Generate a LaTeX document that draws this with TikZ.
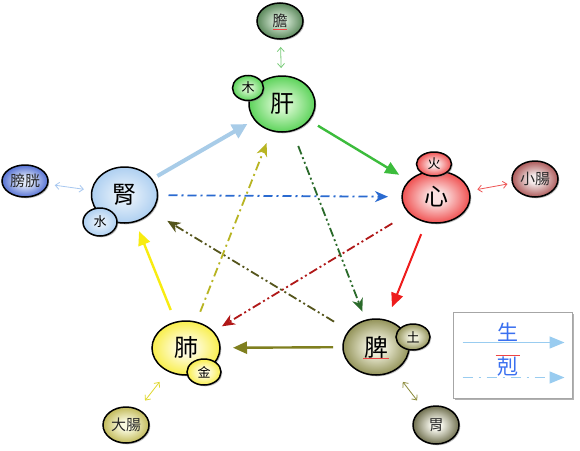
\documentclass[tikz,border=0pt]{standalone}
\usepackage{fontspec}
\newfontfamily\cjk{Noto Sans CJK TC}
\usetikzlibrary{arrows.meta,shapes.geometric,shadows}
\pgfdeclareradialshading[ballin,ballout]{wxball}{\pgfpoint{0bp}{0bp}}{color(0bp)=(ballin);color(6bp)=(ballin);color(31bp)=(ballout);color(50bp)=(ballout!90!black)}
\colorlet{ballin}{white}\colorlet{ballout}{gray}
\definecolor{liverin}{HTML}{D0F6C8}\definecolor{liverout}{HTML}{38C838}
\definecolor{gallin}{HTML}{D0E4D0}\definecolor{gallout}{HTML}{346A34}
\definecolor{kidin}{HTML}{E2EEFA}\definecolor{kidout}{HTML}{9EC6EE}
\definecolor{bladin}{HTML}{E0E8F8}\definecolor{bladout}{HTML}{2A4CC8}
\definecolor{heartin}{HTML}{FBE0E0}\definecolor{heartout}{HTML}{EC2424}
\definecolor{siin}{HTML}{F4EAEA}\definecolor{siout}{HTML}{962C2C}
\definecolor{splin}{HTML}{F0F0DC}\definecolor{splout}{HTML}{767630}
\definecolor{stin}{HTML}{F4F4EA}\definecolor{stout}{HTML}{46461E}
\definecolor{lungin}{HTML}{FFFCE0}\definecolor{lungout}{HTML}{F6EA1E}
\definecolor{liin}{HTML}{FAFAE0}\definecolor{liout}{HTML}{B0A630}
\definecolor{cKL}{HTML}{A8CCE8}\definecolor{cLH}{HTML}{3CBC3C}
\definecolor{cHS}{HTML}{EE1C1C}\definecolor{cSL}{HTML}{7F7F1F}
\definecolor{cLK}{HTML}{F8EC10}
\definecolor{dKH}{HTML}{2A6AD0}\definecolor{dHL}{HTML}{B01818}
\definecolor{dLS}{HTML}{2A6A2A}\definecolor{dSK}{HTML}{55551C}
\definecolor{dLL}{HTML}{B8B422}
\definecolor{bGall}{HTML}{7ACC7A}\definecolor{bBlad}{HTML}{A8C8F0}
\definecolor{bSI}{HTML}{EE5555}\definecolor{bSt}{HTML}{8A8A3A}
\definecolor{bLI}{HTML}{E0D830}
\definecolor{legtxt}{HTML}{3A70F0}\definecolor{legarr}{HTML}{99CCF0}
\definecolor{squig}{HTML}{EE4444}
\begin{document}
\begin{tikzpicture}[x=1pt,y=-1pt,
  ball/.style n args={4}{ellipse, draw=black, line width=1.5pt, inner sep=0pt,
    minimum width=#1pt, minimum height=#2pt, shading=wxball,
    /utils/exec={\colorlet{ballin}{#3}\colorlet{ballout}{#4}},
    drop shadow={shadow xshift=1.3pt, shadow yshift=-1.3pt, opacity=0.5}},
  bigtxt/.style={font=\cjk\fontsize{24}{24}\selectfont},
  smalltxt/.style={font=\cjk\fontsize{13}{13}\selectfont},
  organtxt/.style={font=\cjk\fontsize{15}{15}\selectfont, text=black!85},
  legendtxt/.style={font=\cjk\fontsize{21}{21}\selectfont, text=legtxt},
  solidarr/.style={line width=2.4pt, -{Triangle[length=14pt,width=12pt]}},
  dasharr/.style={line width=1.8pt, -{Stealth[length=13pt,width=11pt,inset=4pt]}},
  dashdot/.style={dash pattern=on 9pt off 4pt on 2pt off 4pt},
  dashdotdot/.style={dash pattern=on 9pt off 3pt on 2pt off 3pt on 2pt off 3pt},
  dblarr/.style={line width=0.8pt, {Straight Barb[length=4pt,width=7pt]}-{Straight Barb[length=4pt,width=7pt]}},
  underline/.style={draw=squig, line width=0.8pt},
  legendbox/.style={draw=gray!70, line width=1pt, fill=white, inner sep=0pt,
    minimum width=119pt, minimum height=86pt,
    drop shadow={shadow xshift=2pt, shadow yshift=-2pt, opacity=0.6}}
]
\fill[white] (0,0) rectangle (580,450);
\useasboundingbox (0,0) rectangle (580,450);

% main organs
\node[ball={66}{56}{liverin}{liverout}, bigtxt] (liver) at (282,104) {肝};
\node[ball={66}{56}{kidin}{kidout}, bigtxt] (kidney) at (124.5,195) {腎};
\node[ball={68}{52}{heartin}{heartout}, bigtxt] (heart) at (436,197) {心};
\node[ball={66}{56}{splin}{splout}, bigtxt] (spleen) at (376,347) {脾};
\node[ball={68}{54}{lungin}{lungout}, bigtxt] (lung) at (186,348) {肺};

% elements
\node[ball={31}{25}{liverin}{liverout}, smalltxt] (wood) at (248,88) {木};
\node[ball={34}{28}{kidin}{kidout}, smalltxt] (water) at (100,222) {水};
\node[ball={35}{24}{heartin}{heartout}, smalltxt] (fire) at (434,164) {火};
\node[ball={34}{26}{splin}{splout}, smalltxt] (earth) at (413,337) {土};
\node[ball={34}{26}{lungin}{lungout}, smalltxt] (metal) at (204,372) {金};

% paired organs
\node[ball={46}{36}{gallin}{gallout}, organtxt] (gall) at (280,21) {膽};
\node[ball={46}{32}{bladin}{bladout}, organtxt] (bladder) at (25,181) {膀胱};
\node[ball={46}{36}{siin}{siout}, organtxt] (smallint) at (535,179) {小腸};
\node[ball={46}{38}{stin}{stout}, organtxt] (stomach) at (436,425) {胃};
\node[ball={46}{36}{liin}{liout}, organtxt] (largeint) at (126,425) {大腸};

% spell-check underlines visible in the picture
\draw[underline] ([xshift=-7pt,yshift=-8.5pt]gall.center) -- ([xshift=7pt,yshift=-8.5pt]gall.center);
\draw[underline] ([xshift=-13pt,yshift=-11.5pt]spleen.center) -- ([xshift=13pt,yshift=-11.5pt]spleen.center);

% generating cycle
\draw[solidarr, cKL, line width=4pt, -{Triangle[length=15pt,width=15pt]}, shorten <=38pt, shorten >=40pt] (kidney.center) -- (liver.center);
\draw[solidarr, cLH, shorten <=42pt, shorten >=43pt] (liver.center) -- (heart.center);
\draw[solidarr, cHS, line width=2pt, shorten <=40pt, shorten >=43pt] (heart.center) -- (spleen.center);
\draw[solidarr, cSL, shorten <=43pt, shorten >=47pt] (spleen.center) -- (lung.center);
\draw[solidarr, cLK, shorten <=41pt, shorten >=39pt] (lung.center) -- (kidney.center);

% controlling cycle
\draw[dasharr, dashdot, dKH, shorten <=44pt, shorten >=48pt] (kidney.center) -- (heart.center);
\draw[dasharr, dashdotdot, dHL, shorten <=51pt, shorten >=42pt] (heart.center) -- (lung.center);
\draw[dasharr, dashdotdot, dLS, shorten <=45pt, shorten >=38pt] (liver.center) -- (spleen.center);
\draw[dasharr, dashdotdot, dSK, shorten <=49pt, shorten >=50pt] (spleen.center) -- (kidney.center);
\draw[dasharr, dashdot, dLL, shorten <=39pt, shorten >=42pt] (lung.center) -- (liver.center);

% organ pairs
\draw[dblarr, bGall, shorten <=36pt, shorten >=26pt] (liver.center) -- (gall.center);
\draw[dblarr, bBlad, shorten <=41pt, shorten >=30pt] (kidney.center) -- (bladder.center);
\draw[dblarr, bSI, shorten <=42pt, shorten >=28pt] (heart.center) -- (smallint.center);
\draw[dblarr, bSt, shorten <=44pt, shorten >=31pt] (spleen.center) -- (stomach.center);
\draw[dblarr, bLI, shorten <=43pt, shorten >=31pt] (lung.center) -- (largeint.center);

% legend
\node[legendbox] (legend) at (512.5,355) {};
\path (legend.north west) ++(10,31) coordinate (ls1) (legend.north west) ++(112,31) coordinate (le1)
      (legend.north west) ++(10,66) coordinate (ls2) (legend.north west) ++(112,66) coordinate (le2);
\node[legendtxt] (sheng) at ([xshift=55pt,yshift=-21pt]legend.north west) {生};
\node[legendtxt] (ke) at ([xshift=55pt,yshift=-55pt]legend.north west) {剋};
\draw[legarr, line width=1.4pt, -{Triangle[length=15pt,width=12pt]}] (ls1) -- (le1);
\draw[legarr, line width=1.4pt, dash pattern=on 10pt off 6pt on 2pt off 6pt, -{Triangle[length=15pt,width=12pt]}] (ls2) -- (le2);
\draw[underline] ([xshift=-12pt,yshift=11.5pt]ke.center) -- ([xshift=12pt,yshift=11.5pt]ke.center);
\end{tikzpicture}
\end{document}
